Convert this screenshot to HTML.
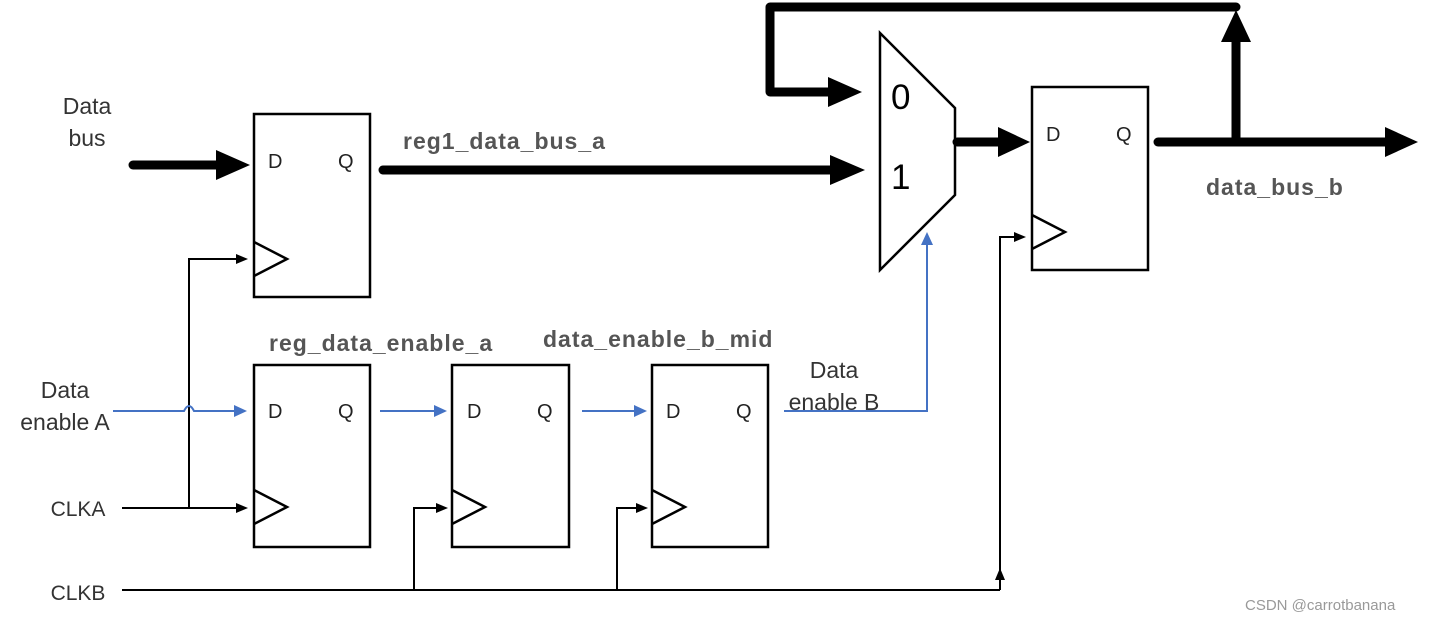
<!DOCTYPE html>
<html><head><style>
html,body{margin:0;padding:0;background:#fff;}
svg{display:block;}
text{font-family:"Liberation Sans",sans-serif;}
</style></head><body>
<svg width="1431" height="621" viewBox="0 0 1431 621" xmlns="http://www.w3.org/2000/svg">
<g fill="none" stroke="#000" stroke-width="2.5">
<rect x="254" y="114" width="116" height="183"/>
<rect x="254" y="365" width="116" height="182"/>
<rect x="452" y="365" width="117" height="182"/>
<rect x="652" y="365" width="116" height="182"/>
<rect x="1032" y="87" width="116" height="183"/>
<polygon points="880,33 955,108 955,195 880,270"/>
<polyline points="254,242 287,259 254,276"/>
<polyline points="254,490 287,507 254,524"/>
<polyline points="452,490 485,507 452,524"/>
<polyline points="652,490 685,507 652,524"/>
<polyline points="1032,215 1065,232 1032,249"/>
</g>
<g stroke="#000" stroke-width="9" fill="none" stroke-linecap="round">
<line x1="133" y1="165" x2="218" y2="165"/>
<line x1="383" y1="170" x2="832" y2="170"/>
<line x1="957" y1="142" x2="1000" y2="142"/>
<line x1="1158" y1="142" x2="1388" y2="142"/>
<line x1="1236" y1="142" x2="1236" y2="40"/>
<polyline points="1236,7 770,7 770,92 832,92" stroke-linecap="round" stroke-linejoin="round"/>
</g>
<g fill="#000">
<polygon points="216,150 250,165 216,180"/>
<polygon points="830,155 865,170 830,185"/>
<polygon points="828,77 862,92 828,107"/>
<polygon points="998,127 1030,142 998,157"/>
<polygon points="1385,127 1418,142 1385,157"/>
<polygon points="1221,42 1236,10 1251,42"/>
</g>
<g stroke="#000" stroke-width="2" fill="none">
<line x1="122" y1="508" x2="240" y2="508"/>
<polyline points="189,508 189,259 240,259"/>
<line x1="122" y1="590" x2="1000" y2="590"/>
<polyline points="414,590 414,508 438,508"/>
<polyline points="617,590 617,508 640,508"/>
<polyline points="1000,590 1000,237 1016,237"/>
</g>
<g fill="#000">
<polygon points="236,503 248,508 236,513"/>
<polygon points="236,254 248,259 236,264"/>
<polygon points="436,503 448,508 436,513"/>
<polygon points="636,503 648,508 636,513"/>
<polygon points="1014,232 1026,237 1014,242"/>
<polygon points="995,580 1000,568 1005,580"/>
</g>
<g stroke="#4472c4" stroke-width="2" fill="none">
<path d="M113,411 L184,411 Q189,401 194,411 L236,411"/>
<line x1="380" y1="411" x2="436" y2="411"/>
<line x1="582" y1="411" x2="636" y2="411"/>
<polyline points="784,411 927,411 927,245"/>
</g>
<g fill="#4472c4">
<polygon points="234,405 247,411 234,417"/>
<polygon points="434,405 447,411 434,417"/>
<polygon points="634,405 647,411 634,417"/>
<polygon points="921,245 927,232 933,245"/>
</g>
<g font-size="20" fill="#222">
<text x="268" y="168">D</text><text x="338" y="168">Q</text>
<text x="268" y="418">D</text><text x="338" y="418">Q</text>
<text x="467" y="418">D</text><text x="537" y="418">Q</text>
<text x="666" y="418">D</text><text x="736" y="418">Q</text>
<text x="1046" y="141">D</text><text x="1116" y="141">Q</text>
</g>
<g font-size="35" fill="#000">
<text x="891" y="109">0</text><text x="891" y="189">1</text>
</g>
<g font-size="23" fill="#333" text-anchor="middle">
<text x="87" y="114">Data</text><text x="87" y="146">bus</text>
<text x="65" y="398">Data</text><text x="65" y="430">enable A</text>
<text x="834" y="378">Data</text><text x="834" y="410">enable B</text>
</g>
<g font-size="21" fill="#333" text-anchor="middle">
<text x="78" y="516">CLKA</text><text x="78" y="600">CLKB</text>
</g>
<g font-size="23" font-weight="bold" fill="#555" letter-spacing="1">
<text x="403" y="149">reg1_data_bus_a</text>
<text x="269" y="351">reg_data_enable_a</text>
<text x="543" y="347">data_enable_b_mid</text>
<text x="1206" y="195">data_bus_b</text>
</g>
<text x="1245" y="610" font-size="15" fill="#999">CSDN @carrotbanana</text>
</svg>
</body></html>
